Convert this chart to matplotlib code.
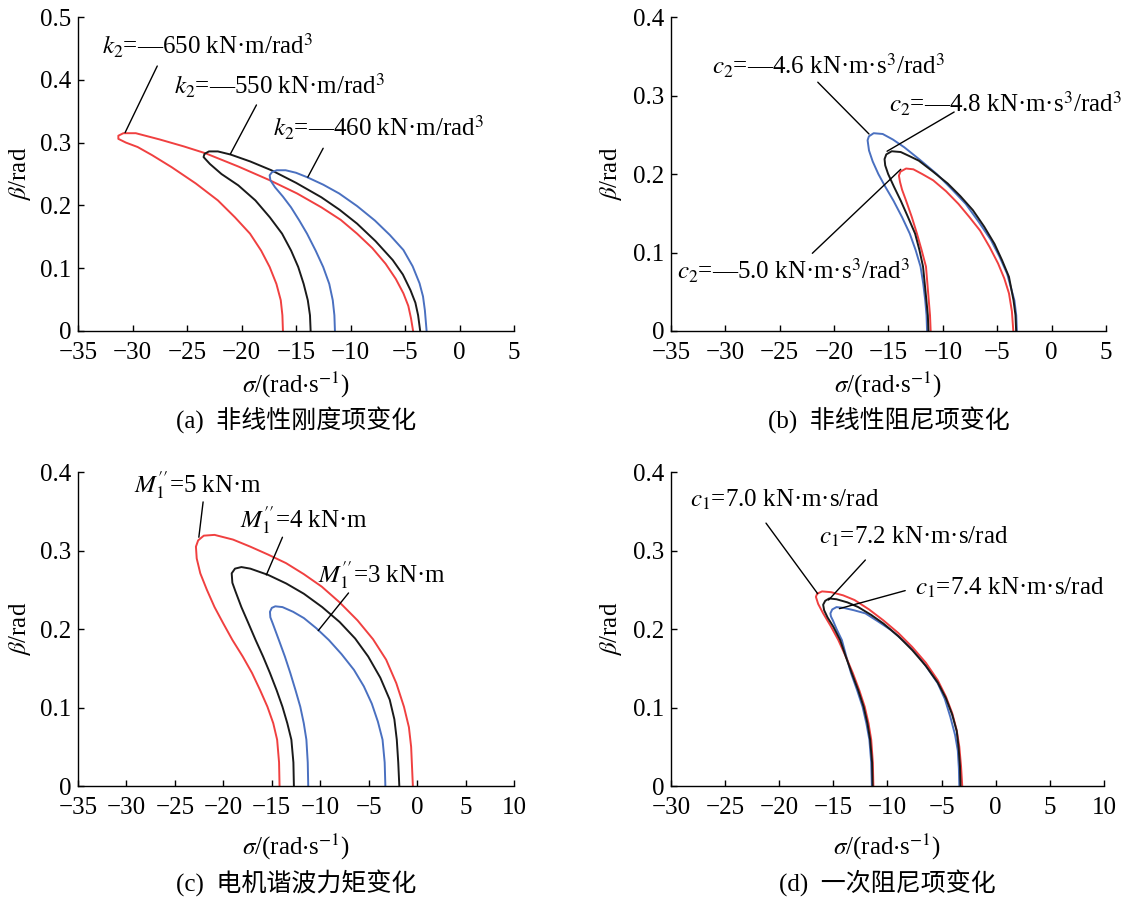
import matplotlib.pyplot as plt

plt.rcParams['font.family'] = ['Liberation Serif', 'Noto Sans CJK SC']
plt.rcParams['mathtext.fontset'] = 'stix'
plt.rcParams['font.size'] = 18
plt.rcParams['axes.unicode_minus'] = True

RED = '#f04040'
BLUE = '#4a70c0'
BLACK = '#1a1a1a'

# ---- (a) nonlinear stiffness k2 ----
a_red_sigma = [-16.2, -16.25, -16.4, -16.8, -17.42, -18.2, -19.22, -20.6, -22.17, -24.2, -26.42, -28.2, -29.53,
               -30.6, -31.3, -31.3, -30.84, -29.7, -27.5, -25.3, -23.3, -20.3, -17.4, -14.9, -12.68, -10.9, -9.4,
               -8.0, -6.78, -5.85, -5.15, -4.7, -4.45, -4.26]
a_red_beta = [0, 0.025, 0.049, 0.075, 0.102, 0.128, 0.155, 0.181, 0.208, 0.235, 0.261, 0.280, 0.293,
              0.300, 0.306, 0.311, 0.315, 0.315, 0.305, 0.294, 0.283, 0.262, 0.240, 0.219, 0.197, 0.177, 0.155,
              0.132, 0.107, 0.083, 0.060, 0.040, 0.020, 0]
a_black_sigma = [-13.66, -13.72, -13.92, -14.3, -14.8, -15.45, -16.28, -17.4, -18.73, -20.3, -21.84, -22.9, -23.48,
                 -23.4, -22.99, -22.17, -21.0, -19.2, -17.26, -15.0, -12.68, -11.0, -9.4, -7.7, -6.13, -5.2, -4.5,
                 -4.05, -3.8, -3.61]
a_black_beta = [0, 0.025, 0.049, 0.075, 0.102, 0.128, 0.155, 0.181, 0.208, 0.232, 0.250, 0.266, 0.277,
                0.282, 0.286, 0.286, 0.281, 0.270, 0.256, 0.236, 0.213, 0.193, 0.171, 0.143, 0.113, 0.090, 0.065,
                0.045, 0.025, 0]
a_blue_sigma = [-11.43, -11.48, -11.63, -11.95, -12.51, -13.2, -13.99, -14.7, -15.46, -16.2, -16.93, -17.35, -17.42,
                -17.2, -16.77, -15.95, -15.0, -13.99, -12.5, -11.04, -9.4, -7.77, -6.4, -5.15, -4.3, -3.67, -3.35,
                -3.18, -3.02]
a_blue_beta = [0, 0.025, 0.049, 0.075, 0.102, 0.128, 0.155, 0.176, 0.197, 0.214, 0.229, 0.240, 0.248,
               0.253, 0.256, 0.256, 0.252, 0.245, 0.233, 0.219, 0.199, 0.176, 0.153, 0.129, 0.103, 0.076, 0.055,
               0.033, 0]

# ---- (b) nonlinear damping c2 ----
b_blue_sigma = [-11.45, -11.5, -11.62, -11.8, -12.05, -12.5, -13.04, -13.75, -14.54, -15.3, -15.93, -16.45, -16.79,
                -16.92, -16.8, -16.36, -15.53, -14.6, -13.54, -12.1, -10.56, -9.2, -7.9, -6.7, -5.58, -4.8, -4.09,
                -3.42, -3.25, -3.19]
b_blue_beta = [0, 0.02, 0.039, 0.06, 0.082, 0.103, 0.124, 0.145, 0.166, 0.184, 0.200, 0.216, 0.230,
               0.243, 0.248, 0.252, 0.251, 0.244, 0.234, 0.218, 0.200, 0.181, 0.162, 0.139, 0.116, 0.095, 0.073,
               0.039, 0.02, 0]
b_black_sigma = [-11.32, -11.38, -11.52, -11.82, -12.15, -12.55, -13.2, -13.87, -14.5, -15.03, -15.3, -15.36, -15.2,
                 -14.7, -13.87, -13.1, -12.21, -10.9, -9.56, -8.4, -7.24, -6.2, -5.25, -4.55, -3.92, -3.5, -3.32,
                 -3.26]
b_black_beta = [0, 0.02, 0.04, 0.082, 0.103, 0.124, 0.145, 0.166, 0.184, 0.200, 0.211, 0.219, 0.225,
                0.229, 0.228, 0.223, 0.217, 0.203, 0.188, 0.172, 0.154, 0.133, 0.111, 0.090, 0.069, 0.039, 0.02, 0]
b_red_sigma = [-11.12, -11.18, -11.3, -11.55, -11.95, -12.38, -12.85, -13.38, -13.75, -13.94, -14.04, -13.9, -13.38,
               -12.71, -11.9, -10.89, -9.7, -8.57, -7.55, -6.58, -5.7, -4.92, -4.35, -3.92, -3.65, -3.52]
b_red_beta = [0, 0.02, 0.04, 0.082, 0.103, 0.124, 0.145, 0.166, 0.180, 0.190, 0.198, 0.203, 0.207,
              0.206, 0.200, 0.192, 0.178, 0.162, 0.145, 0.128, 0.107, 0.086, 0.067, 0.048, 0.025, 0]

# ---- (c) motor harmonic torque M1'' ----
c_red_sigma = [-14.2, -14.25, -14.45, -14.85, -15.45, -16.2, -17.04, -18.0, -19.06, -20.0, -20.91, -21.7, -22.38,
               -22.75, -22.83, -22.6, -22.02, -20.91, -19.0, -17.22, -15.4, -13.53, -11.7, -9.84, -8.0, -6.15,
               -4.55, -3.2, -2.15, -1.36, -0.85, -0.62, -0.44]
c_red_beta = [0, 0.03, 0.059, 0.08, 0.101, 0.122, 0.144, 0.165, 0.186, 0.207, 0.228, 0.250, 0.271,
              0.290, 0.305, 0.313, 0.319, 0.320, 0.314, 0.305, 0.295, 0.284, 0.270, 0.254, 0.234, 0.211,
              0.187, 0.161, 0.131, 0.101, 0.075, 0.05, 0]
c_black_sigma = [-12.72, -12.77, -12.98, -13.4, -13.9, -14.5, -15.19, -15.9, -16.67, -17.4, -18.14, -18.75, -19.07,
                 -19.14, -18.8, -18.14, -17.22, -15.38, -13.5, -11.69, -9.8, -8.0, -6.4, -5.05, -3.8, -2.83,
                 -2.35, -2.1, -1.95, -1.84]
c_black_beta = [0, 0.03, 0.059, 0.08, 0.101, 0.122, 0.144, 0.165, 0.186, 0.207, 0.228, 0.248, 0.259,
                0.271, 0.277, 0.279, 0.277, 0.269, 0.258, 0.245, 0.228, 0.209, 0.188, 0.165, 0.138, 0.110,
                0.085, 0.059, 0.03, 0]
c_blue_sigma = [-11.24, -11.29, -11.43, -11.7, -12.06, -12.55, -13.09, -13.65, -14.27, -14.9, -15.15, -15.19, -15.0,
                -14.64, -13.9, -12.8, -11.69, -10.4, -9.11, -7.8, -6.52, -5.5, -4.68, -4.05, -3.57, -3.35, -3.28]
c_blue_beta = [0, 0.03, 0.059, 0.08, 0.101, 0.122, 0.144, 0.165, 0.186, 0.207, 0.215, 0.222, 0.227,
               0.229, 0.228, 0.222, 0.214, 0.201, 0.186, 0.168, 0.148, 0.127, 0.105, 0.082, 0.059, 0.03, 0]

# ---- (d) linear damping c1 ----
d_red_sigma = [-11.3, -11.35, -11.5, -11.75, -12.1, -12.6, -13.2, -13.85, -14.54, -15.25, -15.94, -16.4, -16.61,
               -16.5, -16.04, -15.21, -14.1, -13.04, -11.7, -10.37, -9.0, -7.7, -6.45, -5.36, -4.6, -4.02, -3.6,
               -3.36, -3.2, -3.09]
d_red_beta = [0, 0.03, 0.059, 0.08, 0.101, 0.122, 0.144, 0.165, 0.186, 0.204, 0.220, 0.232, 0.241,
              0.245, 0.248, 0.247, 0.243, 0.237, 0.225, 0.211, 0.195, 0.177, 0.157, 0.135, 0.114, 0.093, 0.071,
              0.05, 0.025, 0]
d_black_sigma = [-11.37, -11.42, -11.6, -11.85, -12.2, -12.7, -13.3, -13.85, -14.37, -15.0, -15.54, -15.85, -15.94,
                 -15.75, -15.38, -14.71, -13.7, -12.7, -11.5, -10.37, -9.0, -7.7, -6.45, -5.36, -4.6, -4.02, -3.6,
                 -3.42, -3.3, -3.25]
d_black_beta = [0, 0.03, 0.059, 0.08, 0.101, 0.122, 0.144, 0.165, 0.186, 0.203, 0.215, 0.224, 0.231,
                0.236, 0.239, 0.238, 0.234, 0.228, 0.218, 0.207, 0.191, 0.173, 0.153, 0.132, 0.112, 0.091, 0.07,
                0.048, 0.025, 0]
d_blue_sigma = [-11.44, -11.5, -11.67, -11.95, -12.3, -12.8, -13.37, -13.8, -14.21, -14.7, -15.04, -15.22, -15.27,
                -15.1, -14.71, -14.04, -13.1, -12.04, -10.9, -9.7, -8.5, -7.36, -6.3, -5.36, -4.7, -4.19, -3.75,
                -3.5, -3.4, -3.36]
d_blue_beta = [0, 0.03, 0.059, 0.08, 0.101, 0.122, 0.144, 0.165, 0.186, 0.200, 0.211, 0.216, 0.220,
               0.225, 0.228, 0.227, 0.224, 0.220, 0.210, 0.199, 0.185, 0.170, 0.150, 0.131, 0.111, 0.088, 0.065,
               0.045, 0.022, 0]

x_ticks_ab = [-35, -30, -25, -20, -15, -10, -5, 0, 5]
x_ticks_c = [-35, -30, -25, -20, -15, -10, -5, 0, 5, 10]
x_ticks_d = [-30, -25, -20, -15, -10, -5, 0, 5, 10]
y_ticks_a = [0, 0.1, 0.2, 0.3, 0.4, 0.5]
y_labels_a = ['0', '0.1', '0.2', '0.3', '0.4', '0.5']
y_ticks = [0, 0.1, 0.2, 0.3, 0.4]
y_labels = ['0', '0.1', '0.2', '0.3', '0.4']

captions = ['(a)  非线性刚度项变化', '(b)  非线性阻尼项变化', '(c)  电机谐波力矩变化', '(d)  一次阻尼项变化']

fig = plt.figure(figsize=(11.29, 8.97), dpi=100)
ax_a = fig.add_axes([0.0691, 0.631, 0.3862, 0.350])
ax_b = fig.add_axes([0.5943, 0.631, 0.3853, 0.350])
ax_c = fig.add_axes([0.0691, 0.1237, 0.3862, 0.350])
ax_d = fig.add_axes([0.5943, 0.1237, 0.3835, 0.350])


def setup(ax, xt, yt, ylab, caption, xlab_y, cap_y, ylab_x):
    ax.set_xlim(xt[0], xt[-1])
    ax.set_ylim(yt[0], yt[-1])
    ax.set_xticks(xt)
    ax.set_yticks(yt)
    ax.set_yticklabels(ylab)
    for s in ['top', 'right']:
        ax.spines[s].set_visible(False)
    for s in ['left', 'bottom']:
        ax.spines[s].set_linewidth(1.0)
    ax.tick_params(direction='in', length=4, width=1)
    ax.tick_params(axis='x', pad=8)
    ax.tick_params(axis='y', pad=5)
    ax.set_xlabel(r'$\sigma$/(rad$\cdot$s$^{-1}$)', va='center')
    ax.xaxis.set_label_coords(0.5, xlab_y)
    ax.set_ylabel(r'$\beta$/rad', va='center')
    ax.yaxis.set_label_coords(ylab_x, 0.5)
    ax.text(0.5, cap_y, caption, transform=ax.transAxes, ha='center', va='center')


def leader(ax, start, end):
    ax.annotate('', xy=end, xytext=start,
                arrowprops=dict(arrowstyle='-', color='k', lw=1.0, shrinkA=0, shrinkB=0))


setup(ax_a, x_ticks_ab, y_ticks_a, y_labels_a, captions[0], -0.171, -0.286, -0.134)
setup(ax_b, x_ticks_ab, y_ticks, y_labels, captions[1], -0.171, -0.286, -0.138)
setup(ax_c, x_ticks_c, y_ticks, y_labels, captions[2], -0.193, -0.309, -0.134)
setup(ax_d, x_ticks_d, y_ticks, y_labels, captions[3], -0.193, -0.309, -0.138)

lw = 1.4
# (a)
ax_a.plot(a_red_sigma, a_red_beta, color=RED, lw=lw, clip_on=False)
ax_a.plot(a_black_sigma, a_black_beta, color=BLACK, lw=lw, clip_on=False)
ax_a.plot(a_blue_sigma, a_blue_beta, color=BLUE, lw=lw, clip_on=False)
ax_a.text(-32.8, 0.454, r'$k_2$=—650 kN·m/rad$^3$', ha='left', va='center')
ax_a.text(-26.19, 0.390, r'$k_2$=—550 kN·m/rad$^3$', ha='left', va='center')
ax_a.text(-17.1, 0.324, r'$k_2$=—460 kN·m/rad$^3$', ha='left', va='center')
leader(ax_a, (-27.73, 0.422), (-30.68, 0.316))
leader(ax_a, (-18.63, 0.360), (-21.02, 0.282))
leader(ax_a, (-12.51, 0.291), (-13.92, 0.245))

# (b)
ax_b.plot(b_red_sigma, b_red_beta, color=RED, lw=lw, clip_on=False)
ax_b.plot(b_blue_sigma, b_blue_beta, color=BLUE, lw=lw, clip_on=False)
ax_b.plot(b_black_sigma, b_black_beta, color=BLACK, lw=lw, clip_on=False)
ax_b.text(-31.19, 0.338, r'$c_2$=—4.6 kN·m·s$^3$/rad$^3$', ha='left', va='center')
ax_b.text(-14.93, 0.289, r'$c_2$=—4.8 kN·m·s$^3$/rad$^3$', ha='left', va='center')
ax_b.text(-34.44, 0.077, r'$c_2$=—5.0 kN·m·s$^3$/rad$^3$', ha='left', va='center')
leader(ax_b, (-21.5, 0.317), (-16.79, 0.251))
leader(ax_b, (-8.96, 0.279), (-15.13, 0.229))
leader(ax_b, (-22.0, 0.099), (-13.87, 0.206))

# (c)
ax_c.plot(c_red_sigma, c_red_beta, color=RED, lw=lw, clip_on=False)
ax_c.plot(c_black_sigma, c_black_beta, color=BLACK, lw=lw, clip_on=False)
ax_c.plot(c_blue_sigma, c_blue_beta, color=BLUE, lw=lw, clip_on=False)
ax_c.text(-29.21, 0.383, r"$M_1''$=5 kN·m", ha='left', va='center')
ax_c.text(-18.25, 0.339, r"$M_1''$=4 kN·m", ha='left', va='center')
ax_c.text(-10.21, 0.269, r"$M_1''$=3 kN·m", ha='left', va='center')
leader(ax_c, (-22.09, 0.362), (-22.53, 0.317))
leader(ax_c, (-13.9, 0.317), (-15.56, 0.269))
leader(ax_c, (-7.08, 0.246), (-10.21, 0.198))

# (d)
ax_d.plot(d_blue_sigma, d_blue_beta, color=BLUE, lw=lw, clip_on=False)
ax_d.plot(d_red_sigma, d_red_beta, color=RED, lw=lw, clip_on=False)
ax_d.plot(d_black_sigma, d_black_beta, color=BLACK, lw=lw, clip_on=False)
ax_d.text(-28.23, 0.364, r'$c_1$=7.0 kN·m·s/rad', ha='left', va='center')
ax_d.text(-16.31, 0.318, r'$c_1$=7.2 kN·m·s/rad', ha='left', va='center')
ax_d.text(-7.43, 0.252, r'$c_1$=7.4 kN·m·s/rad', ha='left', va='center')
leader(ax_d, (-21.22, 0.335), (-16.44, 0.245))
leader(ax_d, (-12.04, 0.288), (-15.44, 0.237))
leader(ax_d, (-8.36, 0.249), (-14.44, 0.226))

fig.savefig('out.png', dpi=100)
